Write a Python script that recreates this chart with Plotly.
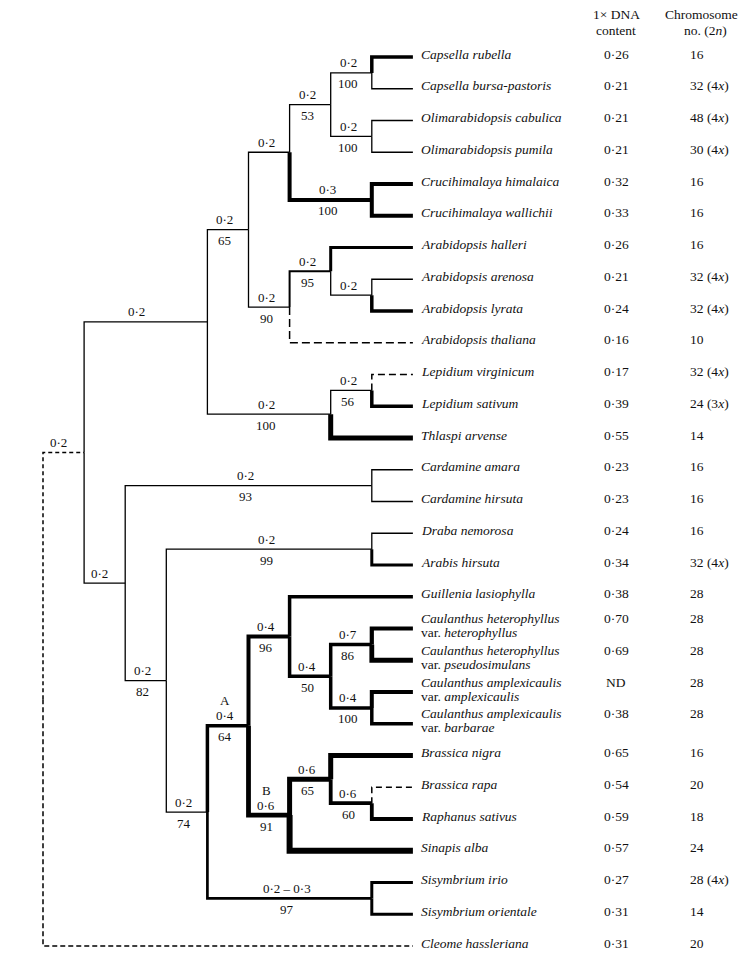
import plotly.graph_objects as go

# ---------------- data ----------------
species = [
    "Capsella rubella", "Capsella bursa-pastoris", "Olimarabidopsis cabulica",
    "Olimarabidopsis pumila", "Crucihimalaya himalaica", "Crucihimalaya wallichii",
    "Arabidopsis halleri", "Arabidopsis arenosa", "Arabidopsis lyrata",
    "Arabidopsis thaliana", "Lepidium virginicum", "Lepidium sativum",
    "Thlaspi arvense", "Cardamine amara", "Cardamine hirsuta", "Draba nemorosa",
    "Arabis hirsuta", "Guillenia lasiophylla",
    "Caulanthus heterophyllus|heterophyllus", "Caulanthus heterophyllus|pseudosimulans",
    "Caulanthus amplexicaulis|amplexicaulis", "Caulanthus amplexicaulis|barbarae",
    "Brassica nigra", "Brassica rapa", "Raphanus sativus", "Sinapis alba",
    "Sisymbrium irio", "Sisymbrium orientale", "Cleome hassleriana",
]
dna_content = [0.26, 0.21, 0.21, 0.21, 0.32, 0.33, 0.26, 0.21, 0.24, 0.16, 0.17, 0.39,
               0.55, 0.23, 0.23, 0.24, 0.34, 0.38, 0.70, 0.69, None, 0.38, 0.65, 0.54,
               0.59, 0.57, 0.27, 0.31, 0.31]
chromosomes = [16, 32, 48, 30, 16, 16, 16, 32, 32, 10, 32, 24, 14, 16, 16, 16, 32, 28,
               28, 28, 28, 28, 16, 20, 18, 24, 28, 14, 20]
ploidy = ["", "4", "4", "4", "", "", "", "4", "4", "", "4", "3", "", "", "", "", "4", "",
          "", "", "", "", "", "", "", "", "4", "", ""]

# internal nodes: name -> (depth level, children)
nodes = {
    "root": (0, ["ingroup", "Cleome hassleriana"]),
    "ingroup": (1, ["Nara", "Nb"]),
    "Nara": (4, ["N65", "Nlep100"]),
    "N65": (5, ["Ntop", "N90"]),
    "Ntop": (6, ["N53", "Cruci"]),
    "N53": (7, ["Caps", "Olim"]),
    "Caps": (8, ["Capsella rubella", "Capsella bursa-pastoris"]),
    "Olim": (8, ["Olimarabidopsis cabulica", "Olimarabidopsis pumila"]),
    "Cruci": (8, ["Crucihimalaya himalaica", "Crucihimalaya wallichii"]),
    "N90": (6, ["N95", "Arabidopsis thaliana"]),
    "N95": (7, ["Arabidopsis halleri", "Narly"]),
    "Narly": (8, ["Arabidopsis arenosa", "Arabidopsis lyrata"]),
    "Nlep100": (7, ["Lep", "Thlaspi arvense"]),
    "Lep": (8, ["Lepidium virginicum", "Lepidium sativum"]),
    "Nb": (2, ["Card", "N82"]),
    "Card": (8, ["Cardamine amara", "Cardamine hirsuta"]),
    "N82": (3, ["DrAr", "N74"]),
    "DrAr": (8, ["Draba nemorosa", "Arabis hirsuta"]),
    "N74": (4, ["A", "Sisym"]),
    "A": (5, ["N96", "B"]),
    "N96": (6, ["Guillenia lasiophylla", "N50"]),
    "N50": (7, ["CH", "CA"]),
    "CH": (8, ["Caulanthus heterophyllus|heterophyllus", "Caulanthus heterophyllus|pseudosimulans"]),
    "CA": (8, ["Caulanthus amplexicaulis|amplexicaulis", "Caulanthus amplexicaulis|barbarae"]),
    "B": (6, ["N65b", "Sinapis alba"]),
    "N65b": (7, ["Brassica nigra", "N60"]),
    "N60": (8, ["Brassica rapa", "Raphanus sativus"]),
    "Sisym": (8, ["Sisymbrium irio", "Sisymbrium orientale"]),
}
TIP_LEVEL = 9

# branch annotations: node -> (above, below, clade letter)
branch_labels = {
    "ingroup": ("0·2", "", ""), "Nara": ("0·2", "", ""), "N65": ("0·2", "65", ""),
    "Ntop": ("0·2", "", ""), "N53": ("0·2", "53", ""), "Caps": ("0·2", "100", ""),
    "Olim": ("0·2", "100", ""), "Cruci": ("0·3", "100", ""), "N90": ("0·2", "90", ""),
    "N95": ("0·2", "95", ""), "Narly": ("0·2", "", ""), "Nlep100": ("0·2", "100", ""),
    "Lep": ("0·2", "56", ""), "Nb": ("0·2", "", ""), "Card": ("0·2", "93", ""),
    "N82": ("0·2", "82", ""), "DrAr": ("0·2", "99", ""), "N74": ("0·2", "74", ""),
    "A": ("0·4", "64", "A"), "B": ("0·6", "91", "B"), "Sisym": ("0·2 – 0·3", "97", ""),
    "N96": ("0·4", "96", ""), "N50": ("0·4", "50", ""), "CH": ("0·7", "86", ""),
    "CA": ("0·4", "100", ""), "N65b": ("0·6", "65", ""), "N60": ("0·6", "60", ""),
}

# ---------------- styles ----------------
edge_style = {
    "ingroup": (1.5, "4px,3px"), "Cleome hassleriana": (1.5, "5px,3px"),
    "Capsella rubella": (3.5, "solid"), "Cruci": (4, "solid"),
    "Crucihimalaya himalaica": (4, "solid"), "Crucihimalaya wallichii": (4, "solid"),
    "N95": (2, "solid"), "Arabidopsis halleri": (3, "solid"),
    "Arabidopsis lyrata": (3.5, "solid"), "Arabidopsis thaliana": (1.5, "8px,4px"),
    "Lepidium virginicum": (1.5, "7px,4px"), "Lepidium sativum": (3.5, "solid"),
    "Thlaspi arvense": (5, "solid"), "Arabis hirsuta": (3, "solid"),
    "A": (3.5, "solid"), "Sisym": (2.7, "solid"), "N96": (4, "solid"), "B": (4.8, "solid"),
    "Guillenia lasiophylla": (3.5, "solid"), "N50": (3.5, "solid"),
    "CH": (3.5, "solid"), "CA": (3.5, "solid"),
    "Caulanthus heterophyllus|heterophyllus": (4.2, "solid"),
    "Caulanthus heterophyllus|pseudosimulans": (4.8, "solid"),
    "Caulanthus amplexicaulis|amplexicaulis": (4, "solid"),
    "Caulanthus amplexicaulis|barbarae": (3.5, "solid"),
    "N65b": (5, "solid"), "Brassica nigra": (5, "solid"), "N60": (3.8, "solid"),
    "Brassica rapa": (1.5, "6px,4px"), "Raphanus sativus": (3.8, "solid"),
    "Sinapis alba": (6, "solid"), "Sisymbrium irio": (3, "solid"),
    "Sisymbrium orientale": (3, "solid"),
}
DEFAULT_STYLE = (1.3, "solid")
label_xshift = {"Nara": -9, "ingroup": -5, "Nb": -5}

PAGE_W, PAGE_H = 750, 956
BODY = 8                       # default page margin around the plot div
W, H = PAGE_W - BODY, PAGE_H - BODY
X0, XSTEP = 43.0 - BODY, 41.1  # figure pixel of level 0, pixels per level
Y0, YSTEP = 57.0 - BODY, 31.75 # figure pixel of first tip, pixels per row
FONT = "Liberation Serif, Times New Roman, serif"
TEXT_SIZE = 13.5
BRANCH_SIZE = 13


def px_x(p):   # page pixel -> paper x
    return (p - BODY) / W


def px_y(p):   # page pixel -> paper y
    return 1 - (p - BODY) / H


# ---------------- layout computation ----------------
tip_index = {s: i for i, s in enumerate(species)}
pos = {}
parent = {}


def place(name):
    if name in tip_index:
        pos[name] = (TIP_LEVEL, tip_index[name])
        return pos[name]
    lvl, ch = nodes[name]
    ys = []
    for c in ch:
        parent[c] = name
        ys.append(place(c)[1])
    pos[name] = (lvl, (ys[0] + ys[-1]) / 2)
    return pos[name]


place("root")

groups = {}
for n, (lvl, ch) in nodes.items():
    px, py = pos[n]
    for c in ch:
        cx, cy = pos[c]
        st = edge_style.get(c, DEFAULT_STYLE)
        xs, ys = groups.setdefault(st, ([], []))
        xs += [px, px, cx, None]
        ys += [py, cy, cy, None]

fig = go.Figure()
for (w, d), (xs, ys) in groups.items():
    fig.add_trace(go.Scatter(x=xs, y=ys, mode="lines",
                             line=dict(color="black", width=w, dash=d),
                             hoverinfo="skip", showlegend=False))

ann = []


def add(text, x, y, xref="x", yref="y", xanchor="center", xshift=0, yshift=0,
        size=TEXT_SIZE):
    ann.append(dict(text=text, x=x, y=y, xref=xref, yref=yref, xanchor=xanchor,
                    yanchor="middle", xshift=xshift, yshift=yshift, showarrow=False,
                    borderpad=0,
                    font=dict(family=FONT, size=size, color="#111")))


# branch labels
for n, (above, below, letter) in branch_labels.items():
    nx, ny = pos[n]
    ppx = pos[parent[n]][0]
    xm = (ppx + nx) / 2
    xs_ = label_xshift.get(n, -3)
    if above:
        add(above, xm, ny, xshift=xs_, yshift=10, size=BRANCH_SIZE)
    if below:
        add(below, xm, ny, xshift=xs_, yshift=-11, size=BRANCH_SIZE)
    if letter:
        add(letter, xm, ny, xshift=xs_, yshift=25, size=BRANCH_SIZE)

# tip labels and columns
for i, s in enumerate(species):
    dna_txt = "ND" if dna_content[i] is None else f"{dna_content[i]:.2f}".replace(".", "·")
    chr_txt = str(chromosomes[i]) + (f" ({ploidy[i]}<i>x</i>)" if ploidy[i] else "")
    if "|" in s:
        a, b = s.split("|")
        add(f"<i>{a}</i>", TIP_LEVEL, i, xanchor="left", xshift=7, yshift=10)
        add(f"var. <i>{b}</i>", TIP_LEVEL, i, xanchor="left", xshift=7, yshift=-4)
        vy = 10
    else:
        add(f"<i>{s}</i>", TIP_LEVEL, i, xanchor="left", xshift=7, yshift=3)
        vy = 3
    add(dna_txt, px_x(616), i, xref="paper", yshift=vy)
    add(chr_txt, px_x(689), i, xref="paper", xanchor="left", yshift=vy)

# column headers
add("1× DNA", px_x(616), px_y(15), xref="paper", yref="paper")
add("content", px_x(616), px_y(31), xref="paper", yref="paper")
add("Chromosome", px_x(701), px_y(15), xref="paper", yref="paper")
add("no. (2<i>n</i>)", px_x(705), px_y(31), xref="paper", yref="paper")

fig.update_layout(
    width=W, height=H, margin=dict(l=0, r=0, t=0, b=0),
    paper_bgcolor="white", plot_bgcolor="white", annotations=ann,
    xaxis=dict(range=[(0 - X0) / XSTEP, (W - X0) / XSTEP], visible=False, fixedrange=True),
    yaxis=dict(range=[(H - Y0) / YSTEP, (0 - Y0) / YSTEP], visible=False, fixedrange=True),
)
fig.write_html("out.html")
